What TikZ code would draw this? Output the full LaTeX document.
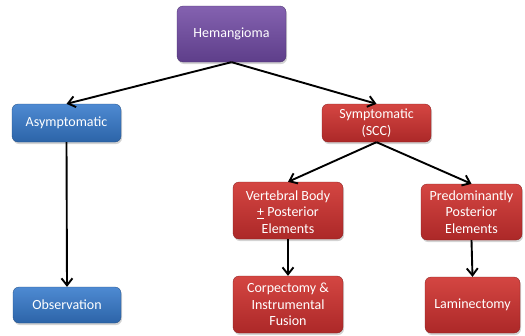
\documentclass[tikz,border=0pt]{standalone}
\usepackage{fontspec}
\setmainfont{Carlito}
\usetikzlibrary{arrows.meta,shadows}
\definecolor{purT}{HTML}{8462B0}
\definecolor{purB}{HTML}{5E3E8A}
\definecolor{bluT}{HTML}{4E8AD2}
\definecolor{bluB}{HTML}{2C64A8}
\definecolor{redT}{HTML}{D44642}
\definecolor{redB}{HTML}{AC2828}
\tikzset{
  box/.style={rounded corners=6pt, text=white, align=center, inner sep=0pt,
    font=\fontsize{14}{16.5}\selectfont,
    drop shadow={shadow xshift=1pt, shadow yshift=-2pt, opacity=0.35}},
  purbox/.style={box, top color=purT, bottom color=purB, draw=purB!80!black, line width=0.3pt},
  blubox/.style={box, top color=bluT, bottom color=bluB, draw=bluB!80!black, line width=0.3pt},
  redbox/.style={box, top color=redT, bottom color=redB, draw=redB!80!black, line width=0.3pt},
  conn/.style={line width=1.9pt, -{Straight Barb[length=7pt,width=11pt,line width=1.9pt]}}
}
\begin{document}
\begin{tikzpicture}[x=1pt,y=-1pt]
\useasboundingbox (0,0) rectangle (525,335);
\node[purbox, minimum width=109pt, minimum height=56pt] (hem) at (231.5,34) {Hemangioma};
\node[blubox, minimum width=109pt, minimum height=38pt] (asy) at (66.5,123) {Asymptomatic};
\node[redbox, minimum width=109pt, minimum height=38pt] (sym) at (376.5,123) {Symptomatic\\(SCC)};
\node[redbox, minimum width=110pt, minimum height=57pt] (vb) at (288,210.5) {\raisebox{0pt}[13pt][0pt]{}Vertebral Body\\\underline{+}\ Posterior\\Elements};
\node[redbox, minimum width=101pt, minimum height=56pt] (pe) at (471.5,212) {Predominantly\\Posterior\\Elements};
\node[blubox, minimum width=108pt, minimum height=36pt] (obs) at (67,305) {Observation};
\node[redbox, minimum width=110pt, minimum height=57pt] (cor) at (288,304.5) {Corpectomy \&\\Instrumental\\Fusion};
\node[redbox, minimum width=95pt, minimum height=56pt] (lam) at (472.5,305) {Laminectomy};
\draw[conn] (hem.south) -- (asy.north);
\draw[conn] (hem.south) -- (sym.north);
\draw[conn] (sym.south) -- (vb.north);
\draw[conn] (sym.south) -- (pe.north);
\draw[conn] (asy.south) -- (obs.north);
\draw[conn] (vb.south) -- (cor.north);
\draw[conn] (pe.south) -- (lam.north);
\end{tikzpicture}
\end{document}
